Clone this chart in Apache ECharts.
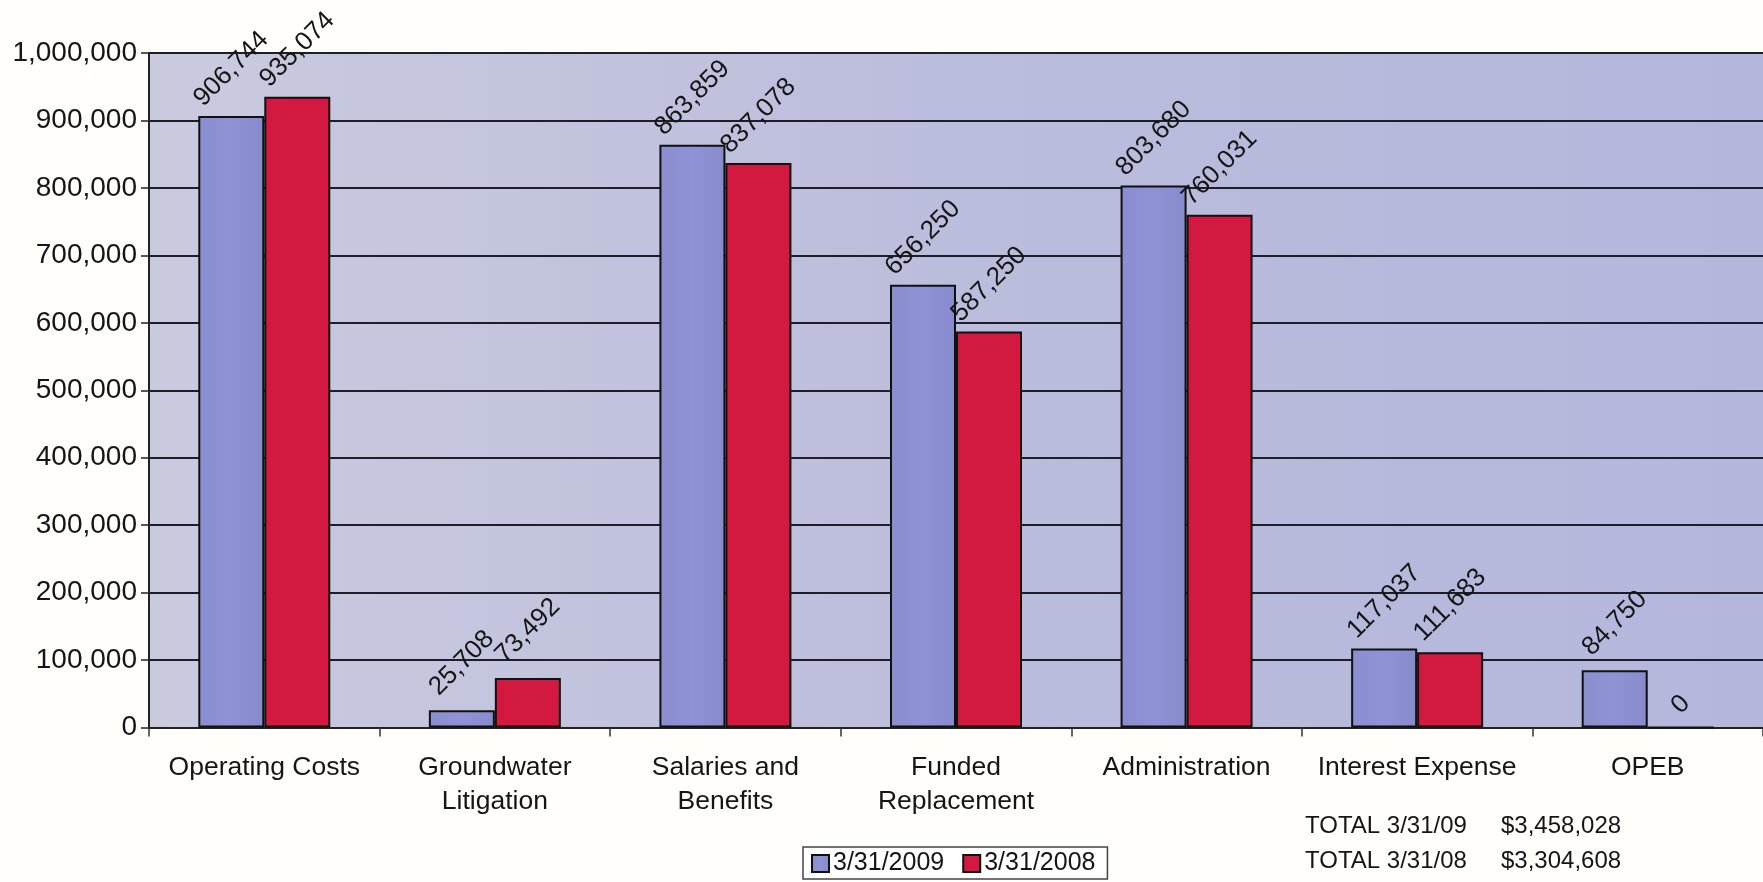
<!DOCTYPE html>
<html>
<head>
<meta charset="utf-8">
<script src="https://cdn.jsdelivr.net/npm/echarts@6/dist/echarts.min.js"></script>
<style>
html,body{margin:0;padding:0;background:#fffefb;}
#chart{width:1763px;height:882px;}
</style>
</head>
<body>
<div id="chart"></div>
<script>
const categories = ['Operating Costs', 'Groundwater\nLitigation', 'Salaries and\nBenefits', 'Funded\nReplacement', 'Administration', 'Interest Expense', 'OPEB'];
const values2009 = [906744, 25708, 863859, 656250, 803680, 117037, 84750];
const values2008 = [935074, 73492, 837078, 587250, 760031, 111683, 0];
const seriesNames = ['3/31/2009', '3/31/2008'];
const totalLabels = ['TOTAL 3/31/09', 'TOTAL 3/31/08'];

const fmt = v => Number(v).toLocaleString('en-US');
const sum = a => a.reduce((s, v) => s + v, 0);
const FONT = '"Liberation Sans", Arial, sans-serif';

const chart = echarts.init(document.getElementById('chart'), null, {renderer: 'canvas'});

const labelCfg = {
  show: true,
  position: 'top',
  rotate: 45,
  align: 'center',
  verticalAlign: 'middle',
  distance: 47,
  fontFamily: FONT,
  fontSize: 26,
  color: '#151515',
  formatter: p => fmt(p.value)
};
// short labels (e.g. a zero) sit closer to the bar top
const toItems = arr => arr.map(v => v === 0 ? {value: v, label: {distance: 22}} : v);

chart.setOption({
  backgroundColor: '#fffefb',
  animation: false,
  textStyle: {fontFamily: FONT},
  grid: {left: 149, right: 0, top: 53, bottom: 154.5, containLabel: false,
    show: true, borderWidth: 0,
    backgroundColor: new echarts.graphic.LinearGradient(0, 0, 1, 0, [
      {offset: 0, color: '#cacadf'},
      {offset: 0.5, color: '#bbbddc'},
      {offset: 1, color: '#b4b6dc'}
    ])
  },
  legend: {
    left: 803, top: 847,
    data: seriesNames,
    backgroundColor: '#ffffff',
    borderColor: '#444',
    borderWidth: 1.5,
    padding: [4, 12, 3, 8],
    itemWidth: 17, itemHeight: 17, itemGap: 18,
    icon: 'rect',
    itemStyle: {borderColor: '#111', borderWidth: 2},
    textStyle: {fontFamily: FONT, fontSize: 25, color: '#151515', padding: [0, 0, 0, -1]}
  },
  xAxis: {
    type: 'category',
    data: categories,
    axisLine: {lineStyle: {color: '#222', width: 2}},
    axisTick: {show: true, alignWithLabel: false, length: 9, lineStyle: {color: '#333', width: 1.5}},
    axisLabel: {fontFamily: FONT, fontSize: 26.5, color: '#151515', lineHeight: 34, margin: 23, interval: 0}
  },
  yAxis: {
    type: 'value',
    min: 0, max: 1000000, interval: 100000,
    axisLine: {show: true, lineStyle: {color: '#222', width: 2}},
    axisTick: {show: true, length: 8, lineStyle: {color: '#222', width: 1.5}},
    splitLine: {show: true, lineStyle: {color: '#1e1e2a', width: 2}},
    axisLabel: {fontFamily: FONT, fontSize: 28, color: '#151515', margin: 12, formatter: v => fmt(v)}
  },
  series: [
    {
      name: seriesNames[0], type: 'bar', data: toItems(values2009),
      barWidth: 66, barGap: '0%',
      itemStyle: {
        color: new echarts.graphic.LinearGradient(0, 0, 1, 0, [
          {offset: 0, color: '#8a8ecf'},
          {offset: 0.5, color: '#8f93d5'},
          {offset: 1, color: '#878bcc'}
        ]),
        borderColor: '#111', borderWidth: 2
      },
      label: labelCfg
    },
    {
      name: seriesNames[1], type: 'bar', data: toItems(values2008),
      barWidth: 66,
      itemStyle: {color: '#d3193f', borderColor: '#111', borderWidth: 2},
      label: labelCfg
    }
  ],
  graphic: [
    {type: 'text', left: 1305, top: 814, style: {text: totalLabels[0], font: '24px ' + FONT, fill: '#151515'}},
    {type: 'text', left: 1501, top: 814, style: {text: '$' + fmt(sum(values2009)), font: '24px ' + FONT, fill: '#151515'}},
    {type: 'text', left: 1305, top: 849, style: {text: totalLabels[1], font: '24px ' + FONT, fill: '#151515'}},
    {type: 'text', left: 1501, top: 849, style: {text: '$' + fmt(sum(values2008)), font: '24px ' + FONT, fill: '#151515'}}
  ]
});
</script>
</body>
</html>
